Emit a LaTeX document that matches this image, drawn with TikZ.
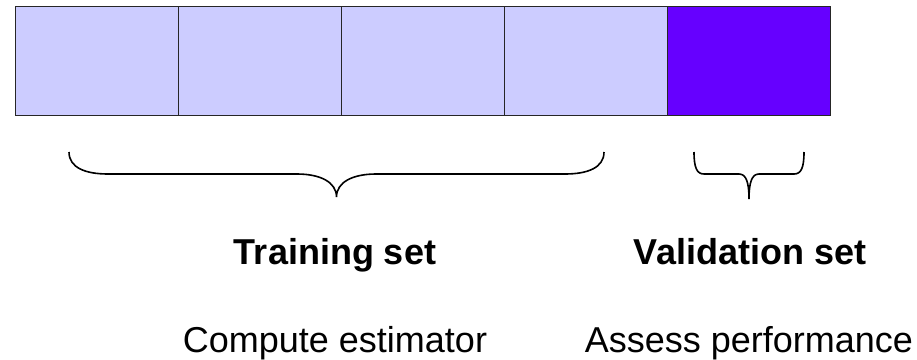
\documentclass[tikz,border=0pt]{standalone}
\usepackage{fontspec}
\setmainfont{Liberation Sans}
\definecolor{trainfill}{HTML}{CCCCFF}
\definecolor{validfill}{HTML}{6600FF}
\begin{document}
\begin{tikzpicture}[x=1pt,y=-1pt,
  foldbox/.style={rectangle,draw=black!85,line width=1pt,minimum width=163pt,minimum height=109pt,inner sep=0pt},
  trainbox/.style={foldbox,fill=trainfill},
  validbox/.style={foldbox,fill=validfill},
  brace/.style={draw=black,line width=1.6pt},
  headtext/.style={anchor=base,font=\fontsize{36}{43}\selectfont\bfseries,inner sep=0pt},
  subtext/.style={anchor=base,font=\fontsize{36}{43}\selectfont,inner sep=0pt}]
\useasboundingbox (0,0) rectangle (917,359);
\node[trainbox] (b1) at (97.2,61.2) {};
\node[trainbox] (b2) at (260.2,61.2) {};
\node[trainbox] (b3) at (423.2,61.2) {};
\node[trainbox] (b4) at (586.2,61.2) {};
\node[validbox] (b5) at (749.2,61.2) {};
% training brace
\draw[brace] (69,152) .. controls (69,168) and (86,174) .. (108,174)
  -- (297,174) .. controls (320,174) and (336.5,182) .. (336.5,197)
  .. controls (336.5,182) and (353,174) .. (376,174)
  -- (565,174) .. controls (587,174) and (604,168) .. (604,152);
% validation brace
\draw[brace] (694,152) .. controls (694,168) and (697,174) .. (704,174)
  -- (739,174) .. controls (746,174) and (749,182) .. (749,199)
  .. controls (749,182) and (752,174) .. (759,174)
  -- (794,174) .. controls (801,174) and (804,168) .. (804,152);
\node[headtext] (train) at (335,264.3) {Training set};
\node[headtext] (valid) at (750,264.3) {Validation set};
\node[subtext] (compute) at (335,352) {Compute estimator};
\node[subtext] (assess) at (749,352) {Assess performance};
\end{tikzpicture}
\end{document}
